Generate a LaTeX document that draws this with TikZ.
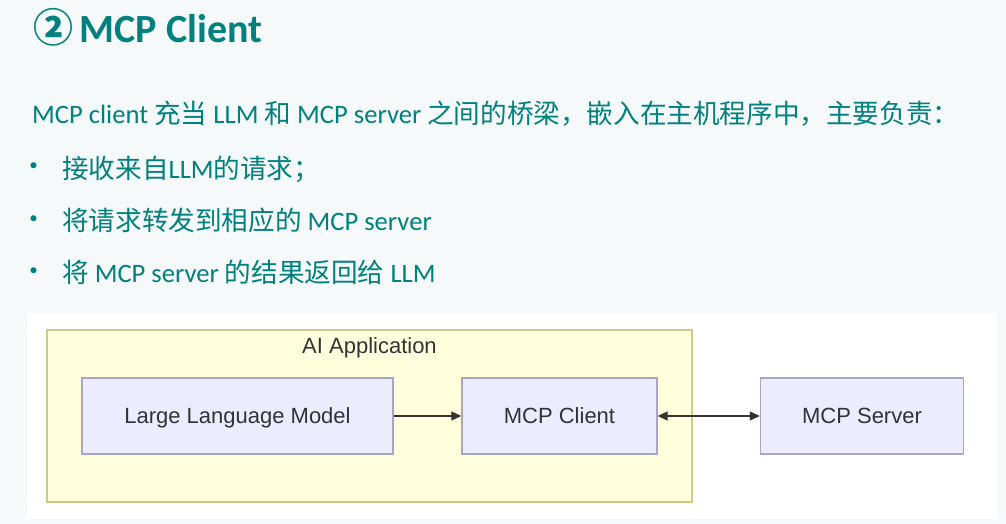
\documentclass[tikz,border=0pt]{standalone}
\usepackage{fontspec}
\setmainfont{Carlito}
\newfontfamily\cjkfont{Noto Sans CJK SC}
\newfontfamily\arialfont{Liberation Sans}
\newcommand\zh[1]{{\cjkfont #1}}
\usetikzlibrary{arrows.meta}
\definecolor{tealtxt}{HTML}{00807F}
\definecolor{pagebg}{HTML}{F5F9F9}
\definecolor{appfill}{HTML}{FFFFDE}
\definecolor{appdraw}{HTML}{C9CC8A}
\definecolor{boxfill}{HTML}{ECECFF}
\definecolor{boxdraw}{HTML}{A9A4C8}
\definecolor{ink}{HTML}{333333}
\tikzset{
  bodytext/.style={anchor=base west, inner sep=0pt, text=tealtxt, font=\fontsize{26.6}{32}\selectfont},
  bulletmark/.style={anchor=center, inner sep=0pt, text=tealtxt, font=\fontsize{17}{20}\selectfont},
  procbox/.style={draw=boxdraw, fill=boxfill, line width=1.4pt, inner sep=0pt, minimum height=76pt, text height=15pt, text depth=0pt, text=ink, font=\arialfont\fontsize{22}{26}\selectfont},
  appbox/.style={draw=appdraw, fill=appfill, line width=1.4pt, inner sep=0pt, minimum width=645pt, minimum height=172pt},
  link/.style={draw=ink, line width=1.1pt},
  arrowtip/.tip={Triangle[length=10pt,width=9pt]}
}
\begin{document}
\begin{tikzpicture}[x=1pt,y=-1pt]
\useasboundingbox (0,0) rectangle (1006,524);
\fill[pagebg] (0,0) rectangle (1006,524);
% title
\node[anchor=base west, inner sep=0pt, text=tealtxt, font=\bfseries\fontsize{40}{46}\selectfont] (title) at (33,43) {{\cjkfont\bfseries ②}\,MCP Client};
% body lines
\node[bodytext] (l1) at (32,124) {MCP client \zh{充当} LLM \zh{和} MCP server \zh{之间的桥梁，嵌入在主机程序中，主要负责：}};
\node[bulletmark] (b1) at (33.5,167) {\textbullet};
\node[bodytext] (l2) at (62,178) {\zh{接收来自}LLM\zh{的请求；}};
\node[bulletmark] (b2) at (33.5,220) {\textbullet};
\node[bodytext] (l3) at (62,230) {\zh{将请求转发到相应的} MCP server};
\node[bulletmark] (b3) at (33.5,272) {\textbullet};
\node[bodytext] (l4) at (62,282) {\zh{将} MCP server \zh{的结果返回给} LLM};
% diagram panel
\fill[white] (27,314) rectangle (997,519);
\node[appbox] (app) at (369.5,416) {};
\node[anchor=base, inner sep=0pt, text=ink, font=\arialfont\fontsize{22}{26}\selectfont] (apptitle) at (369.5,353) {AI Application};
\node[procbox, minimum width=311pt] (llm) at (237.5,416) {Large Language Model};
\node[procbox, minimum width=195pt] (client) at (559.5,416) {MCP Client};
\node[procbox, minimum width=203pt] (server) at (862,416) {MCP Server};
\draw[link, -arrowtip] (llm.east) -- (client.west);
\draw[link, arrowtip-arrowtip] (client.east) -- (server.west);
\end{tikzpicture}
\end{document}
